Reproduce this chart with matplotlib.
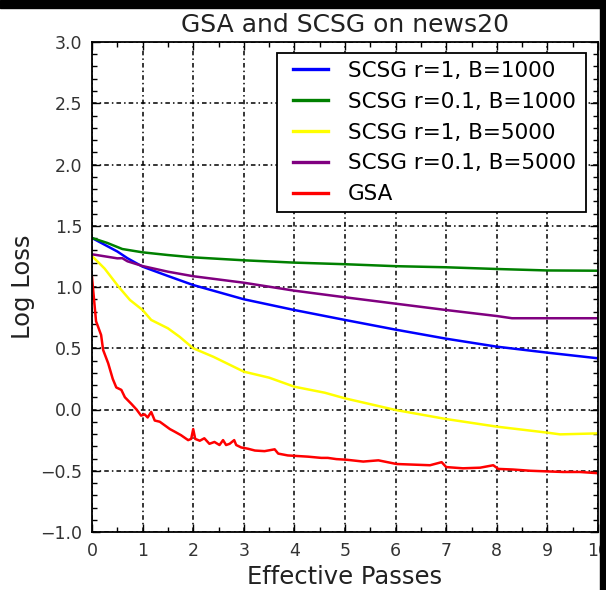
import matplotlib
matplotlib.use("Agg")
import matplotlib.pyplot as plt
from matplotlib.patches import Rectangle
from matplotlib.ticker import MultipleLocator
from matplotlib.transforms import IdentityTransform

plt.rcParams['font.family'] = ['DejaVu Sans']

# log loss vs effective passes, read per method
blue_x = [0, 0.5, 0.7, 1, 1.5, 2, 3, 4, 5, 6, 7, 8, 9, 10]
blue_y = [1.40, 1.29, 1.235, 1.166, 1.09, 1.016, 0.90, 0.812, 0.731, 0.652,
          0.578, 0.513, 0.464, 0.418]

green_x = [0, 0.3, 0.6, 1, 1.5, 2, 3, 4, 5, 6, 7, 8, 9, 10]
green_y = [1.40, 1.36, 1.31, 1.283, 1.261, 1.242, 1.218, 1.199, 1.186, 1.17,
           1.161, 1.147, 1.135, 1.133]

yellow_x = [0, 0.25, 0.53, 0.75, 1, 1.17, 1.5, 1.73, 2, 2.4, 3, 3.5, 4, 4.6,
            5, 6, 7, 8, 9, 9.25, 10]
yellow_y = [1.253, 1.15, 1.0, 0.894, 0.812, 0.731, 0.663, 0.594, 0.5, 0.43,
            0.309, 0.26, 0.186, 0.137, 0.091, -0.004, -0.078, -0.14, -0.189,
            -0.203, -0.195]

purple_x = [0, 0.5, 0.6, 0.7, 1, 1.5, 2, 3, 4, 5, 6, 7, 8, 8.3, 10]
purple_y = [1.267, 1.234, 1.235, 1.21, 1.171, 1.125, 1.088, 1.035, 0.97,
            0.916, 0.864, 0.812, 0.763, 0.745, 0.745]

gsa_x = [0, 0.04, 0.08, 0.12, 0.18, 0.22, 0.32, 0.41, 0.48, 0.58,
         0.65, 0.78, 0.88, 0.97, 1.04, 1.10, 1.17, 1.24, 1.34, 1.44,
         1.54, 1.63, 1.76, 1.90, 1.96, 2.00, 2.04, 2.13, 2.22, 2.32,
         2.42, 2.52, 2.59, 2.65, 2.72, 2.81, 2.85, 2.95, 3.08, 3.22,
         3.41, 3.61, 3.68, 3.87, 4.07, 4.27, 4.40, 4.53, 4.66, 4.83,
         5.03, 5.36, 5.66, 6.02, 6.35, 6.68, 6.91, 7.00, 7.33, 7.67,
         7.93, 8.03, 8.32, 8.66, 8.98, 9.31, 9.64, 10.0]
gsa_y = [1.08, 0.90, 0.72, 0.676, 0.608, 0.486, 0.377, 0.25, 0.18, 0.16,
         0.10, 0.045, 0.0, -0.05, -0.04, -0.065, -0.02, -0.09, -0.10, -0.13,
         -0.16, -0.18, -0.21, -0.25, -0.24, -0.16, -0.24, -0.255, -0.235, -0.28,
         -0.265, -0.29, -0.25, -0.29, -0.28, -0.25, -0.29, -0.31, -0.32, -0.335,
         -0.34, -0.325, -0.36, -0.375, -0.38, -0.385, -0.39, -0.395, -0.395, -0.405,
         -0.41, -0.425, -0.415, -0.445, -0.45, -0.455, -0.43, -0.47, -0.48, -0.475,
         -0.455, -0.485, -0.49, -0.50, -0.505, -0.51, -0.51, -0.52]

series = [
    ("SCSG r=1, B=1000", blue_x, blue_y, "#0000ff"),
    ("SCSG r=0.1, B=1000", green_x, green_y, "#008000"),
    ("SCSG r=1, B=5000", yellow_x, yellow_y, "#ffff00"),
    ("SCSG r=0.1, B=5000", purple_x, purple_y, "#800080"),
    ("GSA", gsa_x, gsa_y, "#ff0000"),
]

W, H = 606, 590
fig = plt.figure(figsize=(W / 100, H / 100), dpi=100)
ax = fig.add_axes([92 / W, 1 - 532 / H, 506 / W, 490 / H])

for name, xs, ys, col in series:
    ax.plot(xs, ys, color=col, lw=1.8, label=name)

ax.set_xlim(0, 10)
ax.set_ylim(-1.0, 3.0)
ax.xaxis.set_major_locator(MultipleLocator(1))
ax.xaxis.set_minor_locator(MultipleLocator(0.5))
ax.yaxis.set_major_locator(MultipleLocator(0.5))
ax.yaxis.set_minor_locator(MultipleLocator(0.1))
ax.tick_params(which='both', direction='in', top=True, right=True,
               colors='black', labelcolor='#333333', labelsize=12.5, pad=7)
ax.tick_params(which='major', length=6, width=1.0)
ax.tick_params(which='minor', length=3.5, width=1.0)
for sp in ax.spines.values():
    sp.set_linewidth(1.3)

ax.grid(True, which='major', color='black', lw=1.1, linestyle=(0, (3, 2, 1, 2)))
ax.set_axisbelow(True)

ax.set_title("GSA and SCSG on news20", fontsize=18, color='#222222', pad=7)
ax.set_xlabel("Effective Passes", fontsize=17.5, color='#222222')
ax.set_ylabel("Log Loss", fontsize=17.5, color='#222222', labelpad=4)

# legend text block anchored in pixels; the box is drawn around it afterwards
leg = ax.legend(loc='upper right', fontsize=15.5, frameon=False,
                labelspacing=0.5, borderpad=0, handlelength=1.6,
                handletextpad=0.95, borderaxespad=0,
                bbox_to_anchor=(576, H - 61), bbox_transform=IdentityTransform())
for ln in leg.get_lines():
    ln.set_linewidth(2.4)

fig.canvas.draw()
bb = leg.get_window_extent()
x0, y0 = bb.x0 - 16, bb.y0 - 8
x1, y1 = bb.x1 + 10, H - 53
box = Rectangle((x0, y0), x1 - x0, y1 - y0, transform=IdentityTransform(),
                facecolor='white', edgecolor='black', lw=1.3, zorder=4.5,
                clip_on=False)
ax.add_artist(box)

# dark border strips along the top and right edges
fig.add_artist(Rectangle((0, 1 - 8 / H), 1, 8 / H, transform=fig.transFigure,
                         color='black', zorder=10))
fig.add_artist(Rectangle((600 / W, 0), 6 / W, 1, transform=fig.transFigure,
                         color='black', zorder=10))

fig.savefig("out.png", dpi=100)
